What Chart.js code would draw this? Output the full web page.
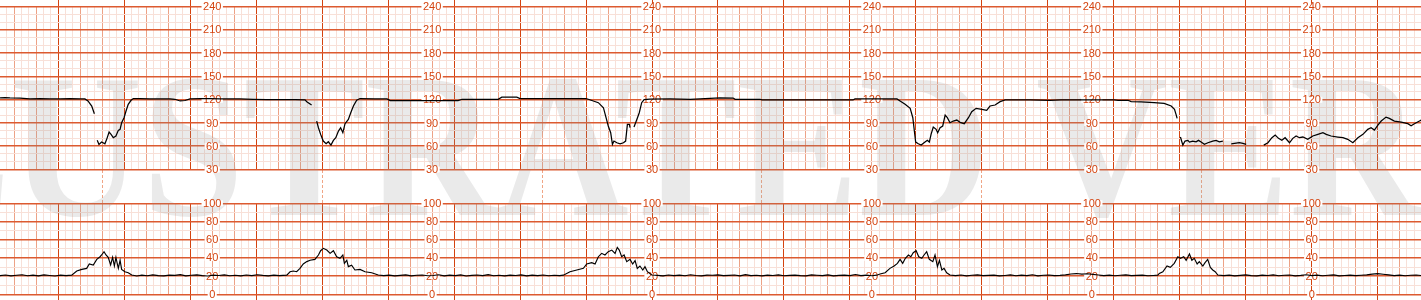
<!DOCTYPE html>
<html><head><meta charset="utf-8">
<script src="https://cdn.jsdelivr.net/npm/chart.js@4.4.1/dist/chart.umd.min.js"></script>
<style>
html,body{margin:0;padding:0;background:#fff;width:1421px;height:300px;overflow:hidden}
canvas{position:absolute;left:0}
#fhr{top:0}
#uc{top:196px}
</style></head><body>
<canvas id="fhr" width="1421" height="204" style="width:1421px;height:204px"></canvas>
<canvas id="uc" width="1421" height="104" style="width:1421px;height:104px"></canvas>
<script>
// ---------- data (time in minutes) ----------
const fhrTime = [
  0.35,0.58,0.80,1.26,1.71,2.17,2.62,3.08,3.53,3.99,4.21,4.35,4.52,4.64,
  4.70,
  4.77,4.85,4.97,5.12,5.20,5.31,5.40,5.50,5.62,5.73,5.81,5.88,5.99,6.08,6.18,6.31,6.41,6.72,7.17,7.63,
  8.08,8.31,8.54,8.76,8.99,9.45,9.90,10.35,10.81,11.26,11.86,12.49,13.08,13.77,14.22,14.30,14.52,
  14.63,
  14.75,14.83,14.93,15.05,15.18,15.28,15.40,15.51,15.62,15.74,15.84,15.94,16.04,16.19,16.30,16.42,16.57,16.72,17.40,17.95,
  18.09,19.45,21.18,21.36,23.00,23.17,23.85,24.00,25.36,27.00,27.10,27.33,27.56,27.79,27.91,28.01,28.12,28.20,28.27,28.40,
  28.55,28.70,28.80,28.88,28.97,29.00,
  29.09,
  29.18,29.31,29.42,29.53,29.64,29.91,30.82,31.73,33.09,33.69,33.78,34.91,35.00,39.14,39.23,41.14,41.28,41.51,41.74,41.86,
  41.93,41.99,42.11,42.24,42.37,42.52,42.61,42.69,42.79,42.92,42.99,43.10,43.22,43.33,43.43,43.55,43.70,43.86,44.01,44.20,
  44.39,44.54,44.74,45.00,45.22,45.37,45.60,45.83,46.06,47.19,48.10,48.60,51.01,51.20,51.65,51.79,52.24,52.83,53.29,53.61,
  53.76,53.83,53.88,
  53.95,
  54.03,54.14,54.24,54.37,54.44,54.59,54.74,54.85,54.97,55.12,55.28,55.50,55.65,55.80,55.96,
  56.10,
  56.34,56.49,56.71,56.87,57.02,
  57.40,
  57.82,58.01,58.19,58.34,58.49,58.64,58.79,58.99,59.14,59.29,59.44,59.60,59.82,60.05,60.28,60.51,60.66,60.88,61.19,61.42,
  61.64,61.87,62.10,62.33,62.55,62.70,62.85,63.01,63.16,63.38,63.53,63.76,64.07,64.37,64.52,64.67,64.90,64.98
];
const fhrBpm = [
  122.5,122.8,122.3,122,121,121.5,121,121.2,121.5,121,121,118.4,111.9,101.9,
  null,
  67.6,62.4,65.4,63.2,68.9,78.3,75.3,71.0,73.2,80.5,81.8,90.3,96.8,105.4,114.1,119.3,121.5,121.5,121.2,121,
  121,120.6,118.4,119,121,121.5,121.3,121,121,121.2,120.6,120.1,120.1,120.1,119.8,117.5,113.2,
  null,
  92.5,83.9,75.3,66.7,63.2,65.8,61.5,67.6,71.0,79.6,83.9,77.5,89.1,94.6,103.2,111.9,119.3,121.5,121,121,
  118.8,118.8,118.8,120.6,120.6,123.2,123.2,121.5,121.3,121.5,120.6,118.4,116.2,109.7,96.8,86.1,77.5,62.4,66.7,64.5,
  63.2,64.5,66.7,88.2,88.2,83.9,
  null,
  84.8,94.6,103.2,116.2,120.1,120.9,121,120.6,122.4,122.2,120.6,120.6,119.7,119.7,121,121,118.4,114.1,108.9,96.8,
  79.6,65.4,63.2,61.5,64.5,67.6,65.4,75.3,84.8,81.8,77.5,83.9,86.1,100.2,96.8,90.3,92.5,93.8,90.8,89.1,
  96.8,104.5,108.9,107.6,106.3,111.9,113.2,117.5,119.7,119.7,119.3,119.7,119.7,119.3,119.3,117.5,117.1,116.2,115.4,111.9,
  107.6,101.1,95.9,
  null,
  71.9,61.5,66.7,67.6,65.4,66.7,65.8,67.6,65.4,62.4,64.5,66.7,67.6,65.8,66.7,
  null,
  63.2,63.7,64.5,63.7,62.4,
  null,
  61.5,64.5,71.0,74.5,70.2,67.6,71.0,64.5,70.2,73.2,71.0,71.9,68.9,73.2,75.3,77.5,75.3,73.2,71.9,71.0,
  68.9,64.5,71.0,75.3,81.8,83.9,80.9,87.3,92.5,97.6,95.9,92.5,91.2,89.1,86.5,89.1,92.5,93.8
];
const ucTime = [
  0.35,0.6,0.85,1.1,1.35,1.6,1.85,2.1,2.35,2.6,2.85,3.1,3.35,
  3.61,3.84,4.07,4.29,4.41,4.59,4.75,4.90,4.97,5.08,5.17,5.27,5.38,5.47,5.55,5.62,5.73,5.81,5.88,6.03,6.18,6.34,6.57,
  6.8,7.05,7.3,7.55,7.8,8.05,8.3,8.55,8.8,9.05,9.3,9.55,9.8,10.05,10.3,10.55,10.8,11.05,11.3,11.55,11.8,12.05,12.3,12.55,12.8,13.05,
  13.39,13.54,13.69,13.84,13.99,14.14,14.30,14.45,14.67,14.83,14.93,15.05,15.21,15.36,15.51,15.66,15.81,15.94,16.01,16.12,16.19,16.34,16.49,16.72,16.95,17.25,17.55,
  17.8,18.05,18.3,18.55,18.8,19.05,19.3,19.55,19.8,20.05,20.3,20.55,20.8,21.05,21.3,21.55,21.8,22.05,22.3,22.55,22.8,23.05,23.3,23.55,23.8,24.05,24.3,24.55,24.8,25.05,25.3,25.55,25.8,
  25.97,26.27,26.58,26.88,27.03,27.26,27.41,27.56,27.71,27.86,28.01,28.17,28.32,28.42,28.51,28.62,28.73,28.85,29.00,29.12,29.23,29.33,29.45,29.58,29.68,29.79,29.99,
  30.25,30.5,30.75,31,31.25,31.5,31.75,32,32.25,32.5,32.75,33,33.25,33.5,33.75,34,34.25,34.5,34.75,35,35.25,35.5,35.75,36,36.25,36.5,36.75,37,37.25,37.5,37.75,38,38.25,38.5,38.75,39,39.25,39.5,39.75,40,
  40.22,40.37,40.60,40.82,41.01,41.16,41.28,41.40,41.52,41.66,41.77,41.88,42.01,42.13,42.27,42.37,42.49,42.61,42.77,42.87,42.98,43.07,43.18,43.28,43.40,43.55,
  43.8,44.05,44.3,44.55,44.8,45.05,45.3,45.55,45.8,46.05,46.3,46.55,46.8,47.05,47.3,47.55,47.8,48.05,48.3,48.55,48.8,49.05,49.3,49.55,49.8,50.05,50.3,50.55,50.8,51.05,51.3,51.55,51.8,52.05,52.3,52.55,52.8,
  53.00,53.07,53.23,53.42,53.57,53.75,53.91,54.03,54.18,54.29,54.44,54.55,54.66,54.79,54.89,55.05,55.15,55.27,55.39,55.50,55.61,55.73,
  56,56.25,56.5,56.75,57,57.25,57.5,57.75,58,58.25,58.5,58.75,59,59.25,59.5,59.75,60,60.25,60.5,60.75,61,61.25,61.5,61.75,62,62.25,62.5,62.75,63,63.25,63.5,63.75,64,64.25,64.5,64.75,64.98
];
const ucValue = [
  20.6,21.2,20.3,20.9,21.5,20.4,21.0,20.2,21.3,20.7,20.1,21.1,20.5,
  21,25.6,27.4,28.5,33.3,32.2,38.4,41.3,43.2,46.8,43.2,40.6,32.2,40.6,31.1,40.6,28.5,37.4,27.4,24.8,23.7,21.2,20.1,
  21.0,20.4,21.4,20.6,20.2,21.1,20.8,21.6,20.3,20.9,21.3,20.5,20.1,21.0,20.7,21.4,20.4,20.9,20.2,21.2,20.6,21.5,20.8,20.3,21.1,20.6,
  21,24.8,25.6,24.8,28.5,33.3,35.9,37.4,38.4,43.2,47.9,50.5,48.6,45,47.9,41.3,39.5,43.2,34,37.4,30.4,32,26.7,27.4,24.8,23.7,21.2,
  20.5,21.1,20.3,20.8,21.4,20.2,20.9,21.2,20.4,20.7,21.5,20.3,21.0,20.6,21.3,20.1,20.8,21.2,20.5,21.6,20.4,20.9,20.2,21.1,20.7,21.4,20.3,21.0,20.6,21.2,20.4,20.9,20.5,
  21,24.8,26.7,28.5,33.3,34.8,33.3,41.3,45,43.2,46.8,48.6,45,51.6,48.6,41.3,43.2,35.9,38.4,33.3,37,28.5,31.1,26.7,30.4,24.8,21.2,
  20.8,20.3,21.2,20.6,21.0,20.4,21.5,20.7,20.2,21.1,20.9,21.4,20.5,20.8,21.2,20.3,21.6,20.6,20.9,20.2,21.0,20.7,21.3,20.4,20.8,21.1,20.5,20.2,21.3,20.9,20.6,21.4,20.3,20.8,21.1,20.5,21.7,20.6,21.0,20.4,
  21,22.3,23.7,28.5,31.1,34,38.4,34,39.5,43.2,41.3,45.7,47.9,41.3,39.5,43.2,46.8,38.4,35.9,43.2,30.4,37.4,26.7,28.5,23.7,21.2,
  20.6,21.2,20.3,20.9,21.4,20.5,20.8,21.1,20.2,20.7,21.3,20.4,21.0,20.6,21.5,20.3,20.9,21.2,20.5,20.8,21.4,22.3,22.8,22.1,22.6,21.9,21.2,20.6,21.0,20.4,20.9,21.3,20.5,20.8,21.1,20.4,20.7,
  21,23,24.8,31.1,29.6,34,41.3,39.5,41.3,37.4,44.3,37.4,39.5,33.3,35.9,31.1,34.8,38.4,29.6,26.7,24.8,21.2,
  20.5,21.1,20.3,20.8,21.3,20.6,20.2,21.0,20.7,21.4,20.4,20.9,21.2,20.3,20.8,21.5,20.6,21.0,20.4,20.9,21.3,20.2,20.7,21.1,20.5,20.9,21.4,22.2,22.7,22.0,21.3,20.6,21.1,20.4,20.9,21.2,20.6
];
const fhrLabels = [240, 210, 180, 150, 120, 90, 60, 30];
const ucLabels = [100, 80, 60, 40, 20, 0];
const labelTimes = [10, 20, 30, 40, 50, 60];
const markerTimes = [5, 15, 25, 35, 45, 55];
const WATERMARK = 'ILLUSTRATED VERSION';

if (fhrTime.length !== fhrBpm.length) console.error('fhr length mismatch', fhrTime.length, fhrBpm.length);
if (ucTime.length !== ucValue.length) console.error('uc length mismatch', ucTime.length, ucValue.length);

// ---------- styling ----------
const X_MIN = 0.349, X_MAX = 64.97;
const C = {
  major: '#d4430f', medium: '#eda286', minor: '#f8e0d8',
  hMajor: '#dc5a30', label: '#d4430f', marker: '#f0a585'
};
const WM_X = -304, WM_BASE = 215, WM_SCALE_X = 0.89;

function xKind(v) { const k = Math.round(v * 3); return k % 9 === 0 ? 2 : (k % 3 === 0 ? 1 : 0); }
function xTicks(scale) {
  const t = [];
  for (let k = Math.ceil(X_MIN * 3); k <= Math.floor(X_MAX * 3); k++) t.push({ value: k / 3 });
  scale.ticks = t;
}
function xGrid(tickLen) {
  return {
    color: c => c.tick ? [C.minor, C.medium, C.major][xKind(c.tick.value)] : 'transparent',
    tickColor: c => (c.tick && xKind(c.tick.value) === 2) ? C.major : 'transparent',
    lineWidth: 1, drawTicks: true, tickLength: tickLen
  };
}
function yGrid(step, majorEvery) {
  return {
    drawTicks: false,
    color: c => c.tick ? (c.tick.value % majorEvery === 0 ? C.hMajor : C.minor) : 'transparent',
    lineWidth: c => (c.tick && c.tick.value % majorEvery === 0) ? 1.5 : 1
  };
}
function yTicks(min, max, step) {
  return scale => { const t = []; for (let v = min; v <= max; v += step) t.push({ value: v }); scale.ticks = t; };
}
function watermark(offsetY, clipTop, clipBottom) {
  return {
    id: 'wm' + offsetY,
    beforeDatasetsDraw(chart) {
      const ctx = chart.ctx;
      ctx.save();
      ctx.beginPath(); ctx.rect(0, clipTop, chart.width, clipBottom - clipTop); ctx.clip();
      ctx.translate(WM_X, WM_BASE - offsetY);
      ctx.scale(WM_SCALE_X, 1);
      ctx.font = 'bold 205px "Liberation Serif", "Times New Roman", serif';
      ctx.fillStyle = 'rgba(150,150,150,0.2)';
      ctx.textBaseline = 'alphabetic'; ctx.textAlign = 'left';
      ctx.fillText(WATERMARK, 0, 0);
      ctx.restore();
    }
  };
}
function scaleLabels(values, yId) {
  return {
    id: 'lbl' + yId,
    beforeDatasetsDraw(chart) {
      const ctx = chart.ctx, xs = chart.scales.x, ys = chart.scales[yId];
      ctx.save();
      ctx.font = '11px "Liberation Sans", Arial, sans-serif';
      ctx.textAlign = 'center'; ctx.textBaseline = 'middle';
      for (const t of labelTimes) {
        const px = xs.getPixelForValue(t);
        for (const v of values) {
          const py = ys.getPixelForValue(v);
          const s = String(v), w = ctx.measureText(s).width;
          ctx.fillStyle = '#fff';
          ctx.fillRect(px - w / 2 - 1.5, py - 3, w + 3, 6);
          ctx.fillStyle = C.label;
          ctx.fillText(s, px, py + 0.5);
        }
      }
      ctx.restore();
    }
  };
}
const common = {
  responsive: false, animation: false, events: [],
  plugins: { legend: { display: false }, tooltip: { enabled: false } }
};

new Chart(document.getElementById('fhr'), {
  type: 'line',
  data: { datasets: [{
    data: fhrTime.map((t, i) => ({ x: t, y: fhrBpm[i] })),
    borderColor: '#000', borderWidth: 1.25, pointRadius: 0, spanGaps: false, tension: 0, fill: false,
    xAxisID: 'x', yAxisID: 'y'
  }] },
  options: Object.assign({}, common, {
    layout: { padding: { top: 0, bottom: 0.7, left: 0, right: 0 } },
    scales: {
      x: { type: 'linear', position: 'top', min: X_MIN, max: X_MAX, afterBuildTicks: xTicks,
           ticks: { display: false, autoSkip: false }, border: { display: false }, grid: xGrid(6.7) },
      x2: { type: 'linear', position: 'bottom', min: X_MIN, max: X_MAX,
            afterBuildTicks: s => { s.ticks = markerTimes.map(v => ({ value: v })); },
            ticks: { display: false, autoSkip: false }, border: { display: false },
            grid: { drawOnChartArea: false, drawTicks: true, tickLength: 33.8, tickColor: C.marker,
                    tickBorderDash: [3, 2], lineWidth: 1, color: C.marker } },
      y: { type: 'linear', position: 'left', min: 30, max: 240, afterBuildTicks: yTicks(30, 240, 10),
           ticks: { display: false }, border: { display: false }, grid: yGrid(10, 30) }
    }
  }),
  plugins: [watermark(0, 0, 203.3), scaleLabels(fhrLabels, 'y')]
});

new Chart(document.getElementById('uc'), {
  type: 'line',
  data: { datasets: [{
    data: ucTime.map((t, i) => ({ x: t, y: ucValue[i] })),
    borderColor: '#000', borderWidth: 1.15, pointRadius: 0, tension: 0, fill: false,
    xAxisID: 'x', yAxisID: 'y'
  }] },
  options: Object.assign({}, common, {
    layout: { padding: { top: 7.3, bottom: 0, left: 0, right: 0 } },
    scales: {
      x: { type: 'linear', position: 'bottom', min: X_MIN, max: X_MAX, afterBuildTicks: xTicks,
           ticks: { display: false, autoSkip: false }, border: { display: false }, grid: xGrid(5.7) },
      y: { type: 'linear', position: 'left', min: 0, max: 100, afterBuildTicks: yTicks(0, 100, 10),
           ticks: { display: false }, border: { display: false }, grid: yGrid(10, 20) }
    }
  }),
  plugins: [watermark(196, 7.3, 104), scaleLabels(ucLabels, 'y')]
});
</script></body></html>
